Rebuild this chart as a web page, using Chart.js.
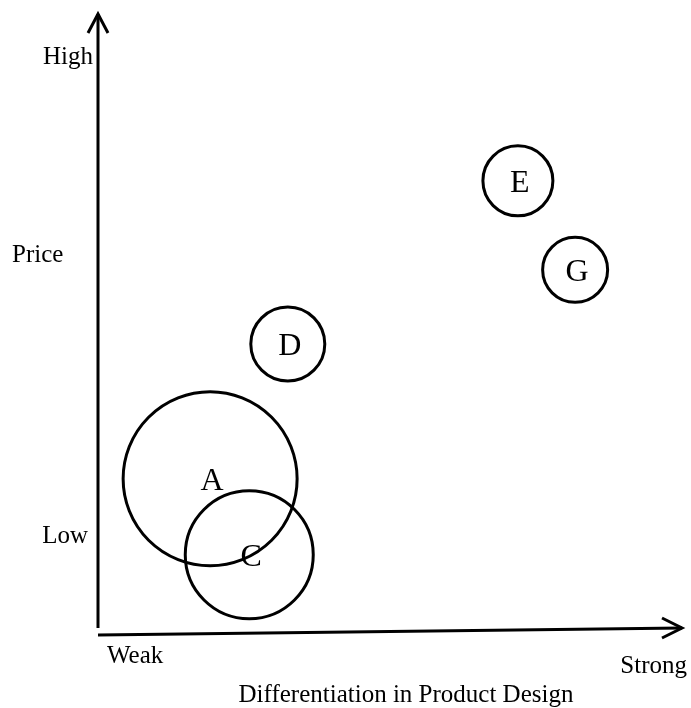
<!DOCTYPE html>
<html>
<head>
<meta charset="utf-8">
<script src="https://cdn.jsdelivr.net/npm/chart.js@4/dist/chart.umd.min.js"></script>
<style>
  html, body { margin: 0; padding: 0; background: #fff; overflow: hidden; }
  canvas { display: block; }
</style>
</head>
<body>
<canvas id="chart" width="691" height="708"></canvas>
<script>
// Product positioning data (x: differentiation, y: price, r: bubble radius in px)
const brands = ['A', 'C', 'D', 'E', 'G'];
const designScores = [1.92, 2.59, 3.25, 7.19, 8.17];
const priceScores = [2.48, 1.25, 4.66, 7.30, 5.86];
const bubbleSizes = [87, 64, 37, 35, 32.5];

// Axis labels
const yTickLabels = ['High', 'Low'];
const yTickValues = [9.3, 1.54];
const yTitle = 'Price';
const yTitleValue = 6.1;
const xTickLabels = ['Weak', 'Strong'];
const xTickValues = [0, 10];
const xTitle = 'Differentiation in Product Design';

const serif = '"Liberation Serif", "Times New Roman", serif';

const points = brands.map((b, i) => ({ x: designScores[i], y: priceScores[i], r: bubbleSizes[i], label: b }));

// Draws arrows, axis texts and bubble letters
const axesPlugin = {
    id: 'axesPlugin',
    afterDatasetsDraw(chart) {
        const ctx = chart.ctx;
        const xs = chart.scales.x;
        const ys = chart.scales.y;
        const area = chart.chartArea;

        ctx.save();
        ctx.strokeStyle = '#000';
        ctx.lineWidth = 3;
        ctx.lineCap = 'butt';

        // y axis
        ctx.beginPath();
        ctx.moveTo(area.left, area.bottom - 4);
        ctx.lineTo(area.left, area.top);
        ctx.stroke();
        ctx.beginPath();
        ctx.moveTo(area.left - 10, area.top + 19);
        ctx.lineTo(area.left, area.top);
        ctx.lineTo(area.left + 10, area.top + 19);
        ctx.stroke();

        // x axis (slightly rising to the right, as in the sketch)
        ctx.beginPath();
        ctx.moveTo(area.left, area.bottom + 3);
        ctx.lineTo(area.right, area.bottom - 4);
        ctx.stroke();
        ctx.beginPath();
        ctx.moveTo(area.right - 20, area.bottom - 14);
        ctx.lineTo(area.right, area.bottom - 4);
        ctx.lineTo(area.right - 20, area.bottom + 6);
        ctx.stroke();

        // axis texts
        ctx.fillStyle = '#000';
        ctx.font = '25px ' + serif;
        ctx.textBaseline = 'middle';
        ctx.textAlign = 'right';
        yTickLabels.forEach((t, i) => {
            ctx.fillText(t, area.left - (i === 0 ? 5 : 10), ys.getPixelForValue(yTickValues[i]));
        });
        ctx.textAlign = 'left';
        ctx.fillText(yTitle, 12, ys.getPixelForValue(yTitleValue));

        ctx.textBaseline = 'alphabetic';
        ctx.textAlign = 'left';
        ctx.fillText(xTickLabels[0], xs.getPixelForValue(xTickValues[0]) + 9, area.bottom + 31);
        ctx.textAlign = 'right';
        ctx.fillText(xTickLabels[1], xs.getPixelForValue(xTickValues[1]) + 5, area.bottom + 41);
        ctx.textAlign = 'center';
        ctx.fillText(xTitle, 406, area.bottom + 70);

        // bubble letters
        ctx.font = '32px ' + serif;
        ctx.textBaseline = 'middle';
        ctx.textAlign = 'center';
        points.forEach(p => {
            ctx.fillText(p.label, xs.getPixelForValue(p.x) + 2, ys.getPixelForValue(p.y) + 3);
        });
        ctx.restore();
    }
};

new Chart(document.getElementById('chart'), {
    type: 'bubble',
    data: {
        datasets: [{
            data: points,
            backgroundColor: 'rgba(255,255,255,0)',
            borderColor: '#000',
            borderWidth: 3,
            clip: false
        }]
    },
    options: {
        responsive: false,
        animation: false,
        layout: { autoPadding: false, padding: { left: 98, right: 9, top: 14, bottom: 76 } },
        plugins: { legend: { display: false }, tooltip: { enabled: false } },
        scales: {
            x: { type: 'linear', min: 0, max: 10, display: false },
            y: { type: 'linear', min: 0, max: 10, display: false }
        }
    },
    plugins: [axesPlugin]
});
</script>
</body>
</html>
